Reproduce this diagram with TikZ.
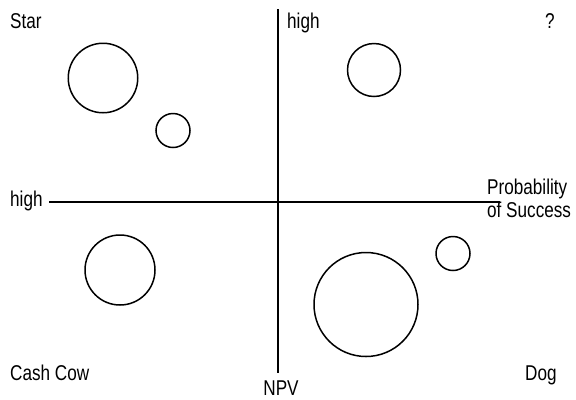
\documentclass[tikz,border=0pt]{standalone}
\usepackage{fontspec}
\setmainfont{Liberation Sans}[FakeStretch=0.8]
\usepackage{tikz}
\usetikzlibrary{positioning}

\tikzset{
	lbl/.style={anchor=base west, inner sep=0pt, font=\fontsize{21.5}{22.5}\selectfont},
	bubble/.style={draw, circle, line width=1.5bp, inner sep=0pt, minimum size=#1},
	axis/.style={line width=1.5bp}
}

\begin{document}
\begin{tikzpicture}[x=1bp, y=-1bp]
		\useasboundingbox (0,0) rectangle (576,399);
		% axes
		\coordinate (ytop) at (278,9);
		\coordinate (ybot) at (278,373);
		\coordinate (xleft) at (49,202);
		\coordinate (xright) at (500,202);
		\draw[axis] (ytop) -- (ybot);
		\draw[axis] (xleft) -- (xright);
		% quadrant names
		\node[lbl] (star) at (10,28) {Star};
		\node[lbl] (quest) at (545,28) {?};
		\node[lbl] (cow) at (10,380) {Cash Cow};
		\node[lbl] (dog) at (525,380) {Dog};
		% axis labels
		\node[lbl] (highy) at (287,28) {high};
		\node[lbl] (highx) at (10,206) {high};
		\node[lbl, anchor=base] (npv) at (281,395) {NPV};
		\node[lbl, align=left] (prob) at (487,217) {Probability\\of Success};
		% projects
		\node[bubble=69.5bp] (s1) at (103,78) {};
		\node[bubble=34bp] (s2) at (173,130.5) {};
		\node[bubble=53bp] (q1) at (374,70) {};
		\node[bubble=70bp] (c1) at (120,270) {};
		\node[bubble=104bp] (d1) at (366,304.5) {};
		\node[bubble=34bp] (d2) at (453,253.5) {};
\end{tikzpicture}
\end{document}
